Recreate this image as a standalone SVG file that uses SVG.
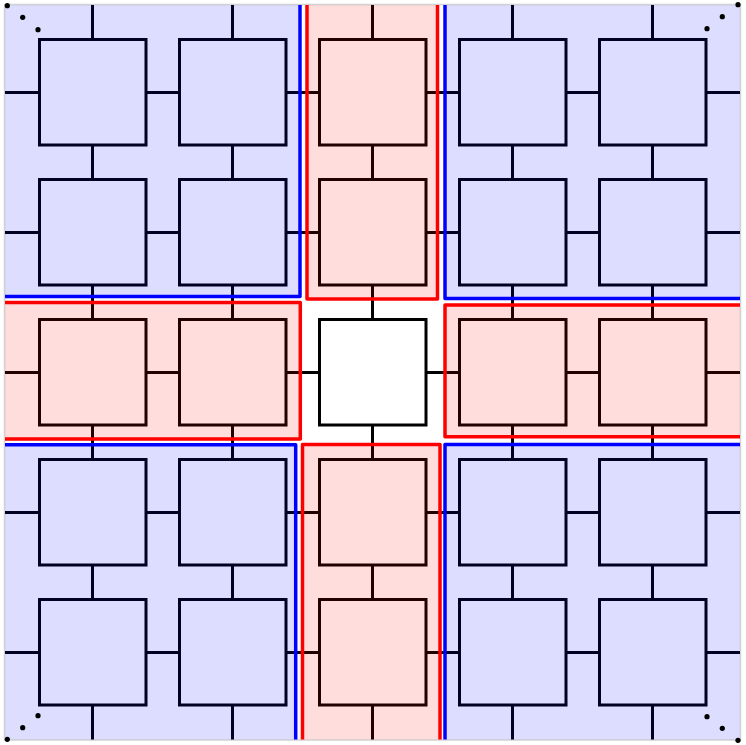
<svg xmlns="http://www.w3.org/2000/svg" width="746" height="745" viewBox="0 0 746 745">
  <defs>
    <style>
      .conn { stroke: #000; stroke-width: 3; fill: none; }
      .node { fill: #fff; stroke: #000; stroke-width: 3; }
      .blueFill { fill: #0000ff; fill-opacity: 0.135; stroke: none; }
      .redFill { fill: #ff0000; fill-opacity: 0.135; stroke: none; }
      .blueLine { fill: none; stroke: #0000ff; stroke-width: 3.5; stroke-linejoin: round; }
      .redLine { fill: none; stroke: #ff0000; stroke-width: 3.5; stroke-linejoin: round; }
      .dot { fill: #000; }
    </style>
    <clipPath id="frame">
      <rect x="5" y="5" width="735" height="734.5"/>
    </clipPath>
  </defs>
  <rect x="0" y="0" width="746" height="745" fill="#ffffff"/>
  <rect x="4.5" y="4.5" width="736" height="735.5" fill="none" stroke="#d2d2d2" stroke-width="1.5"/>

  <g id="connectors" clip-path="url(#frame)">
    <line class="conn" x1="5" y1="92.5" x2="740" y2="92.5"/>
    <line class="conn" x1="5" y1="232.5" x2="740" y2="232.5"/>
    <line class="conn" x1="5" y1="372.5" x2="740" y2="372.5"/>
    <line class="conn" x1="5" y1="512.5" x2="740" y2="512.5"/>
    <line class="conn" x1="5" y1="652.5" x2="740" y2="652.5"/>
    <line class="conn" x1="92.5" y1="5" x2="92.5" y2="740"/>
    <line class="conn" x1="232.5" y1="5" x2="232.5" y2="740"/>
    <line class="conn" x1="372.5" y1="5" x2="372.5" y2="740"/>
    <line class="conn" x1="512.5" y1="5" x2="512.5" y2="740"/>
    <line class="conn" x1="652.5" y1="5" x2="652.5" y2="740"/>
  </g>

  <g id="nodes">
    <g id="n00"><rect class="node" x="39.5" y="39.5" width="106.5" height="105.5"/></g>
    <g id="n01"><rect class="node" x="179.5" y="39.5" width="106.5" height="105.5"/></g>
    <g id="n02"><rect class="node" x="319.5" y="39.5" width="106.5" height="105.5"/></g>
    <g id="n03"><rect class="node" x="459.5" y="39.5" width="106.5" height="105.5"/></g>
    <g id="n04"><rect class="node" x="599.5" y="39.5" width="106.5" height="105.5"/></g>

    <g id="n10"><rect class="node" x="39.5" y="179.5" width="106.5" height="105.5"/></g>
    <g id="n11"><rect class="node" x="179.5" y="179.5" width="106.5" height="105.5"/></g>
    <g id="n12"><rect class="node" x="319.5" y="179.5" width="106.5" height="105.5"/></g>
    <g id="n13"><rect class="node" x="459.5" y="179.5" width="106.5" height="105.5"/></g>
    <g id="n14"><rect class="node" x="599.5" y="179.5" width="106.5" height="105.5"/></g>

    <g id="n20"><rect class="node" x="39.5" y="319.5" width="106.5" height="105.5"/></g>
    <g id="n21"><rect class="node" x="179.5" y="319.5" width="106.5" height="105.5"/></g>
    <g id="n22"><rect class="node" x="319.5" y="319.5" width="106.5" height="105.5"/></g>
    <g id="n23"><rect class="node" x="459.5" y="319.5" width="106.5" height="105.5"/></g>
    <g id="n24"><rect class="node" x="599.5" y="319.5" width="106.5" height="105.5"/></g>

    <g id="n30"><rect class="node" x="39.5" y="459.5" width="106.5" height="105.5"/></g>
    <g id="n31"><rect class="node" x="179.5" y="459.5" width="106.5" height="105.5"/></g>
    <g id="n32"><rect class="node" x="319.5" y="459.5" width="106.5" height="105.5"/></g>
    <g id="n33"><rect class="node" x="459.5" y="459.5" width="106.5" height="105.5"/></g>
    <g id="n34"><rect class="node" x="599.5" y="459.5" width="106.5" height="105.5"/></g>

    <g id="n40"><rect class="node" x="39.5" y="599.5" width="106.5" height="105.5"/></g>
    <g id="n41"><rect class="node" x="179.5" y="599.5" width="106.5" height="105.5"/></g>
    <g id="n42"><rect class="node" x="319.5" y="599.5" width="106.5" height="105.5"/></g>
    <g id="n43"><rect class="node" x="459.5" y="599.5" width="106.5" height="105.5"/></g>
    <g id="n44"><rect class="node" x="599.5" y="599.5" width="106.5" height="105.5"/></g>
  </g>

  <g id="regions" clip-path="url(#frame)">
    <rect class="blueFill" x="-10" y="-10" width="310" height="306.5"/>
    <rect class="blueLine" x="-10" y="-10" width="310" height="306.5"/>
    <rect class="redFill" x="307" y="-10" width="130.5" height="309"/>
    <rect class="redLine" x="307" y="-10" width="130.5" height="309"/>
    <rect class="blueFill" x="445" y="-10" width="315" height="308.5"/>
    <rect class="blueLine" x="445" y="-10" width="315" height="308.5"/>
    <rect class="redFill" x="-10" y="302.5" width="310.3" height="136.5"/>
    <rect class="redLine" x="-10" y="302.5" width="310.3" height="136.5"/>
    <rect class="redFill" x="445" y="305" width="315" height="131.7"/>
    <rect class="redLine" x="445" y="305" width="315" height="131.7"/>
    <rect class="blueFill" x="-10" y="444.7" width="305.7" height="315"/>
    <rect class="blueLine" x="-10" y="444.7" width="305.7" height="315"/>
    <rect class="redFill" x="302.5" y="444.5" width="137.5" height="315"/>
    <rect class="redLine" x="302.5" y="444.5" width="137.5" height="315"/>
    <rect class="blueFill" x="445" y="444.5" width="315" height="315"/>
    <rect class="blueLine" x="445" y="444.5" width="315" height="315"/>
  </g>

  <g id="dots">
    <circle class="dot" cx="7.3" cy="5.7" r="2.6"/>
    <circle class="dot" cx="22.7" cy="17.3" r="2.6"/>
    <circle class="dot" cx="38" cy="29.7" r="2.6"/>

    <circle class="dot" cx="738" cy="4.7" r="2.6"/>
    <circle class="dot" cx="722.3" cy="16.7" r="2.6"/>
    <circle class="dot" cx="707" cy="28.7" r="2.6"/>

    <circle class="dot" cx="707" cy="716.7" r="2.6"/>
    <circle class="dot" cx="722.3" cy="728.3" r="2.6"/>
    <circle class="dot" cx="738" cy="740.3" r="2.6"/>

    <circle class="dot" cx="38" cy="715.7" r="2.6"/>
    <circle class="dot" cx="22.7" cy="727.7" r="2.6"/>
    <circle class="dot" cx="7.3" cy="739.3" r="2.6"/>
  </g>
</svg>
